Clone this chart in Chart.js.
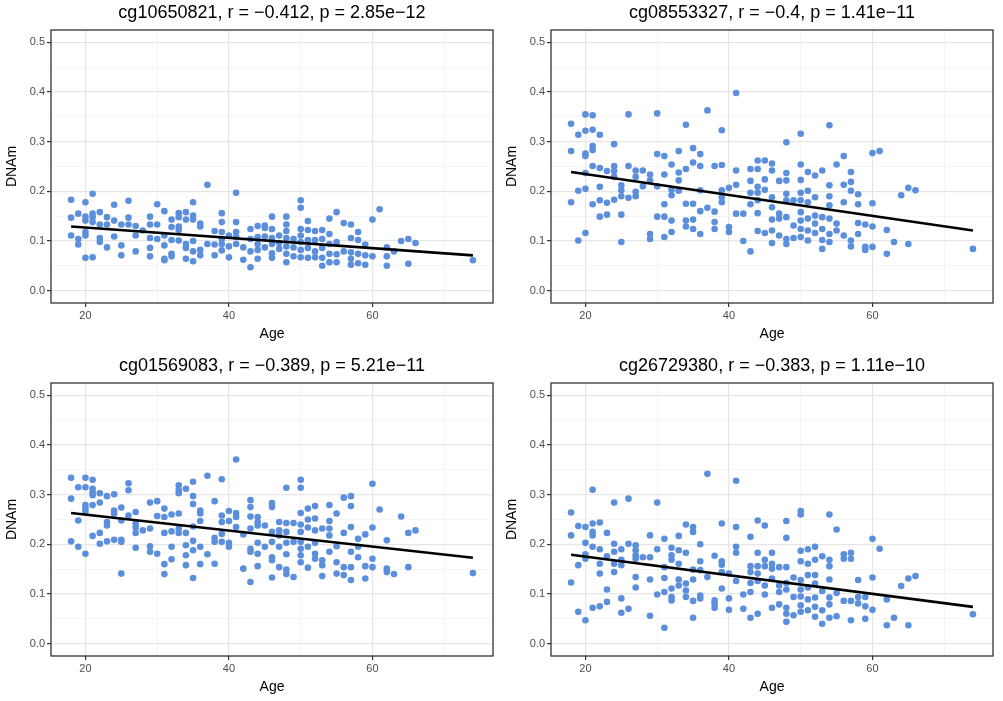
<!DOCTYPE html>
<html>
<head>
<meta charset="utf-8">
<title>DNAm vs Age</title>
<script src="https://cdn.jsdelivr.net/npm/chart.js@4.4.0/dist/chart.umd.min.js"></script>
<style>
    body { margin: 0; background: #fff; }
    #wrap { position: relative; width: 1003px; height: 701px; }
    canvas { position: absolute; }
</style>
</head>
<body>
<div id="wrap"></div>
<script>
// ages that occur in the samples (one column of dots per age)
const ages = [18,19,20,21,22,23,24,25,26,27,28,29,30,31,32,33,34,35,36,37,38,39,40,41,42,
              43,44,45,46,47,48,49,50,51,52,53,54,55,56,57,58,59,60,61,62,63,64,65,66,74];

// grid positions; only the majors get a label
const xTicks = [20, 30, 40, 50, 60, 70];
const yTicks = [0, 0.05, 0.1, 0.15, 0.2, 0.25, 0.3, 0.35, 0.4, 0.45, 0.5];

const titles = [
    "cg10650821, r = \u22120.412, p = 2.85e\u221212",
    "cg08553327, r = \u22120.4, p = 1.41e\u221211",
    "cg01569083, r = \u22120.389, p = 5.21e\u221211",
    "cg26729380, r = \u22120.383, p = 1.11e\u221210"
];

// DNAm values per age column
const dnam1 = [
    [0.183,0.147,0.111], [0.155,0.104,0.093], [0.178,0.149,0.141,0.118,0.111,0.066],
    [0.195,0.155,0.148,0.138,0.067], [0.158,0.133,0.106,0.098], [0.148,0.133,0.087],
    [0.173,0.141,0.109], [0.133,0.091,0.071], [0.181,0.147,0.133], [0.130,0.111,0.079],
    [0.121], [0.149,0.133,0.106,0.086,0.069], [0.174,0.133,0.104],
    [0.160,0.111,0.091,0.064,0.061], [0.143,0.128,0.102,0.074,0.069],
    [0.156,0.148,0.129,0.122,0.101], [0.158,0.143,0.094,0.086,0.064],
    [0.178,0.151,0.143,0.100,0.079,0.059], [0.135,0.129,0.082,0.071], [0.213,0.094],
    [0.120,0.093,0.071], [0.156,0.138,0.118,0.104,0.094,0.081], [0.111,0.089,0.067],
    [0.197,0.138,0.118,0.108,0.094], [0.087,0.062], [0.124,0.104,0.079,0.047],
    [0.130,0.108,0.094,0.082,0.064], [0.131,0.126,0.109,0.087],
    [0.149,0.124,0.106,0.094,0.075,0.066], [0.111,0.096,0.084],
    [0.149,0.133,0.120,0.106,0.089,0.074,0.057], [0.104,0.087,0.069],
    [0.182,0.167,0.124,0.111,0.098,0.082,0.067], [0.140,0.122,0.102,0.086,0.066],
    [0.120,0.102,0.079,0.067], [0.122,0.104,0.086,0.066,0.050],
    [0.145,0.114,0.094,0.074,0.057], [0.158,0.098,0.073,0.057], [0.136,0.079],
    [0.133,0.106,0.077,0.064,0.052], [0.118,0.102,0.074,0.055], [0.093,0.071,0.052],
    [0.143,0.069], [0.164], [0.087,0.069,0.050], [0.079], [0.100], [0.104,0.054],
    [0.096], [0.061]
];

const dnam2 = [
    [0.336,0.281,0.178], [0.314,0.201,0.101], [0.355,0.322,0.276,0.271,0.237,0.205,0.116],
    [0.353,0.324,0.291,0.283,0.251,0.174], [0.314,0.247,0.209,0.182,0.149],
    [0.241,0.177,0.153], [0.295,0.251,0.241,0.229,0.183], [0.212,0.202,0.190,0.153,0.098],
    [0.355,0.251,0.187], [0.242,0.229,0.199,0.190], [0.242,0.210],
    [0.234,0.222,0.114,0.104], [0.357,0.275,0.210,0.149], [0.271,0.234,0.174,0.149,0.108],
    [0.254,0.203,0.192,0.141,0.118], [0.281,0.238,0.222,0.201],
    [0.334,0.245,0.175,0.141,0.129], [0.287,0.258,0.175,0.143,0.124],
    [0.275,0.251,0.202,0.160,0.114], [0.363,0.167], [0.251,0.159,0.138,0.124],
    [0.323,0.253,0.202,0.188,0.178], [0.207,0.128,0.118], [0.398,0.242,0.213,0.155],
    [0.155,0.100], [0.245,0.221,0.197,0.174,0.079],
    [0.262,0.245,0.209,0.197,0.182,0.156,0.120], [0.262,0.224,0.203,0.116],
    [0.256,0.242,0.188,0.168,0.143,0.121,0.096], [0.221,0.155,0.145,0.111],
    [0.299,0.237,0.222,0.195,0.182,0.148,0.104,0.094], [0.182,0.131,0.106],
    [0.316,0.254,0.223,0.197,0.182,0.158,0.141,0.124,0.108],
    [0.239,0.201,0.178,0.145,0.121,0.101], [0.232,0.188,0.151,0.135,0.116],
    [0.242,0.148,0.124,0.102,0.084], [0.333,0.212,0.190,0.172,0.145,0.114,0.098],
    [0.254,0.135,0.121], [0.271,0.213,0.178,0.111], [0.239,0.219,0.201,0.101,0.089],
    [0.194,0.174,0.136,0.114], [0.133,0.088,0.082], [0.277,0.176,0.129,0.088],
    [0.281], [0.122,0.074], [0.098], [0.192], [0.207,0.094], [0.202], [0.084]
];

const dnam3 = [
    [0.334,0.292,0.206], [0.315,0.248,0.195], [0.334,0.315,0.279,0.272,0.265,0.181],
    [0.330,0.312,0.305,0.299,0.279,0.217], [0.303,0.284,0.223,0.201],
    [0.297,0.245,0.238,0.206], [0.301,0.268,0.262,0.209], [0.274,0.248,0.209,0.205,0.141],
    [0.323,0.309,0.258], [0.265,0.242,0.234,0.223,0.193], [0.228],
    [0.284,0.232,0.196,0.185], [0.287,0.257,0.181], [0.272,0.255,0.223,0.160,0.140],
    [0.260,0.226,0.195,0.170], [0.319,0.310,0.303,0.262,0.232,0.223],
    [0.312,0.223,0.198,0.178,0.158], [0.326,0.297,0.281,0.236,0.207,0.188,0.132],
    [0.268,0.262,0.247,0.195,0.160], [0.338,0.180], [0.287,0.213,0.205,0.161],
    [0.331,0.258,0.245,0.221,0.205], [0.267,0.247,0.203,0.195], [0.371,0.263,0.255,0.235],
    [0.220,0.151], [0.289,0.275,0.256,0.232,0.191,0.185,0.124],
    [0.255,0.245,0.238,0.203,0.181,0.156], [0.238,0.195],
    [0.283,0.275,0.225,0.205,0.174,0.168,0.133], [0.245,0.228,0.218,0.195,0.154],
    [0.314,0.243,0.225,0.203,0.180,0.149,0.140], [0.243,0.205,0.134],
    [0.330,0.314,0.263,0.240,0.225,0.205,0.191,0.178,0.164],
    [0.272,0.250,0.234,0.195,0.153], [0.277,0.252,0.228,0.203,0.181,0.171],
    [0.232,0.168,0.158,0.136], [0.279,0.247,0.232,0.218,0.185], [0.262,0.196,0.164,0.141],
    [0.294,0.223,0.154,0.138], [0.297,0.277,0.235,0.185,0.154,0.128],
    [0.211,0.195,0.174], [0.220,0.156,0.131], [0.322,0.234,0.171,0.154], [0.270],
    [0.208,0.151,0.144], [0.140], [0.256], [0.223,0.154], [0.228], [0.142]
];

const dnam4 = [
    [0.264,0.218,0.123], [0.237,0.158,0.064], [0.235,0.203,0.180,0.171,0.047],
    [0.310,0.242,0.225,0.218,0.195,0.072], [0.244,0.190,0.161,0.141,0.075],
    [0.223,0.176,0.109,0.084], [0.284,0.201,0.185,0.161,0.144],
    [0.190,0.169,0.158,0.091,0.062], [0.292,0.201,0.070],
    [0.198,0.188,0.178,0.171,0.134,0.113], [0.174], [0.218,0.174,0.129,0.056],
    [0.284,0.190,0.099], [0.211,0.154,0.132,0.104,0.032],
    [0.193,0.178,0.169,0.111,0.094,0.087], [0.217,0.188,0.161,0.129,0.117],
    [0.240,0.183,0.121,0.107,0.094], [0.235,0.225,0.149,0.129,0.086,0.052],
    [0.200,0.166,0.148,0.097,0.091], [0.342,0.134], [0.177,0.087,0.081,0.072],
    [0.242,0.166,0.159,0.144,0.111], [0.141,0.091,0.068], [0.328,0.235,0.195,0.183,0.126],
    [0.099,0.070], [0.215,0.156,0.144,0.122,0.104,0.052],
    [0.248,0.183,0.156,0.141,0.126,0.060], [0.238,0.169,0.156,0.117,0.099],
    [0.183,0.161,0.151,0.131,0.072], [0.154,0.117,0.104,0.079],
    [0.247,0.213,0.154,0.122,0.109,0.072,0.060,0.044], [0.133,0.094,0.057],
    [0.267,0.260,0.187,0.166,0.128,0.109,0.095,0.077,0.064],
    [0.190,0.161,0.138,0.113,0.089,0.067], [0.195,0.169,0.138,0.121,0.093,0.074,0.054],
    [0.176,0.106,0.067,0.040], [0.260,0.169,0.156,0.129,0.093,0.079,0.052],
    [0.230,0.102,0.055], [0.180,0.171,0.086], [0.183,0.171,0.086,0.047],
    [0.128,0.094,0.081], [0.094,0.075,0.050], [0.211,0.133,0.068], [0.191],
    [0.089,0.037], [0.052], [0.116], [0.131,0.037], [0.136], [0.059]
];

// end points of the fitted lines
const fitAge = [18, 74];
const fit1 = [0.129, 0.071];
const fit2 = [0.239, 0.121];
const fit3 = [0.263, 0.173];
const fit4 = [0.179, 0.074];

const panels = [
    { vals: dnam1, fit: fit1, left: 0,   top: 0 },
    { vals: dnam2, fit: fit2, left: 500, top: 0 },
    { vals: dnam3, fit: fit3, left: 0,   top: 353 },
    { vals: dnam4, fit: fit4, left: 500, top: 353 }
];

Chart.defaults.font.family = '"Liberation Sans", Arial, sans-serif';

const isMajorX = v => Math.round(v) % 20 === 0;
const isMajorY = v => Math.round(v * 100) % 10 === 0;

const framePlugin = {
    id: "frame",
    afterDraw(chart, args, opts) {
        const { ctx, chartArea: a } = chart;
        ctx.save();
        ctx.strokeStyle = "#333";
        ctx.lineWidth = 1.3;
        ctx.strokeRect(a.left, a.top, a.right - a.left, a.bottom - a.top);
        ctx.fillStyle = "#000";
        ctx.font = '18px "Liberation Sans", Arial, sans-serif';
        ctx.textAlign = "center";
        ctx.textBaseline = "middle";
        ctx.fillText(opts.text, (a.left + a.right) / 2, 13);
        ctx.restore();
    }
};

panels.forEach((p, i) => {
    const canvas = document.createElement("canvas");
    canvas.width = 500;
    canvas.height = 345;
    canvas.style.left = p.left + "px";
    canvas.style.top = p.top + "px";
    document.getElementById("wrap").appendChild(canvas);

    const points = [];
    ages.forEach((age, k) => {
        p.vals[k].forEach(v => points.push({ x: age, y: v }));
    });

    new Chart(canvas, {
        type: "scatter",
        data: {
            datasets: [
                {
                    data: fitAge.map((a, k) => ({ x: a, y: p.fit[k] })),
                    showLine: true,
                    borderColor: "#000",
                    borderWidth: 2.6,
                    pointRadius: 0
                },
                {
                    data: points,
                    backgroundColor: "#5b8edb",
                    borderWidth: 0,
                    pointRadius: 3.3
                }
            ]
        },
        options: {
            responsive: false,
            animation: false,
            layout: { padding: { left: 0, right: 7, top: 30, bottom: 0 } },
            plugins: {
                legend: { display: false },
                tooltip: { enabled: false },
                frame: { text: titles[i] }
            },
            scales: {
                x: {
                    type: "linear",
                    min: 15.2,
                    max: 76.8,
                    border: { display: false },
                    grid: {
                        color: c => isMajorX(c.tick.value) ? "#e6e6e6" : "#f2f2f2",
                        lineWidth: c => isMajorX(c.tick.value) ? 1.2 : 0.8,
                        tickColor: c => isMajorX(c.tick.value) ? "#333" : "rgba(0,0,0,0)",
                        tickLength: 4
                    },
                    ticks: {
                        autoSkip: false,
                        maxRotation: 0,
                        padding: 2,
                        color: "#4d4d4d",
                        font: { size: 11 },
                        callback: v => isMajorX(v) ? String(v) : ""
                    },
                    afterBuildTicks: s => { s.ticks = xTicks.map(v => ({ value: v })); },
                    title: {
                        display: true,
                        text: "Age",
                        color: "#000",
                        font: { size: 14 },
                        padding: { top: 0, bottom: 2 }
                    },
                    afterFit: s => { s.height = 42; }
                },
                y: {
                    min: -0.025,
                    max: 0.525,
                    border: { display: false },
                    grid: {
                        color: c => isMajorY(c.tick.value) ? "#e6e6e6" : "#f2f2f2",
                        lineWidth: c => isMajorY(c.tick.value) ? 1.2 : 0.8,
                        tickColor: c => isMajorY(c.tick.value) ? "#333" : "rgba(0,0,0,0)",
                        tickLength: 4
                    },
                    ticks: {
                        autoSkip: false,
                        padding: 2,
                        color: "#4d4d4d",
                        font: { size: 11 },
                        callback: v => isMajorY(v) ? v.toFixed(1) : ""
                    },
                    afterBuildTicks: s => { s.ticks = yTicks.map(v => ({ value: v })); },
                    title: {
                        display: true,
                        text: "DNAm",
                        color: "#000",
                        font: { size: 14 },
                        padding: { top: 4, bottom: 0 }
                    },
                    afterFit: s => { s.width = 51; }
                }
            }
        },
        plugins: [framePlugin]
    });
});
</script>
</body>
</html>
